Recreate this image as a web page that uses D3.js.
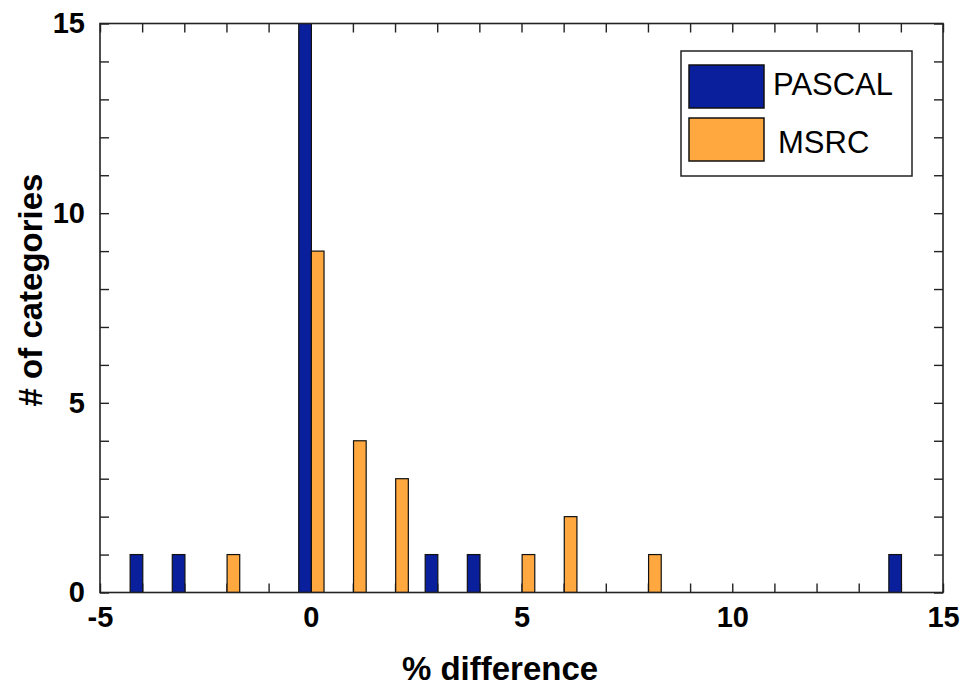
<!DOCTYPE html>
<html>
<head>
<meta charset="utf-8">
<script src="https://cdn.jsdelivr.net/npm/d3@7"></script>
<style>
  body { margin: 0; background: #fff; }
  svg { display: block; }
  text { font-family: "Liberation Sans", Arial, Helvetica, sans-serif; fill: #000; }
</style>
</head>
<body>
<script>
// Histogram of per-category % difference, one count per bin and dataset
const binCenters   = [-4, -3, -2, -1, 0, 1, 2, 3, 4, 5, 6, 7, 8, 9, 10, 11, 12, 13, 14];
const pascalCounts = [ 1,  1,  0,  0, 15, 0, 0, 1, 1, 0, 0, 0, 0, 0, 0, 0, 0, 0, 1];
const msrcCounts   = [ 0,  0,  1,  0,  9, 4, 3, 0, 0, 1, 2, 0, 1, 0, 0, 0, 0, 0, 0];
const seriesNames  = ["PASCAL", "MSRC"];
const seriesColors = ["#0a1f9c", "#ffa840"];
const xTickLabels  = [-5, 0, 5, 10, 15];
const yTickLabels  = [0, 5, 10, 15];
const xDomain = [-5, 15];
const yDomain = [0, 15];

const W = 967, H = 686;
const plot = { left: 100, right: 943, top: 23.5, bottom: 592.5 };

const svg = d3.select("body").append("svg")
  .attr("width", W).attr("height", H);

const x = d3.scaleLinear().domain(xDomain).range([plot.left, plot.right]);
const y = d3.scaleLinear().domain(yDomain).range([plot.bottom, plot.top]);
// position of each dataset's bar within its bin (in data units)
const sub = d3.scaleBand().domain(seriesNames).range([-0.285, 0.315]).padding(0);

const minorX = d3.range(xDomain[0], xDomain[1] + 1);
const minorY = d3.range(yDomain[0], yDomain[1] + 1);
const tickLen = 9;
const plainNumber = d => String(d);   // ASCII hyphen for negatives

function styleTicks(g) {
  g.select(".domain").remove();
  g.selectAll(".tick line").attr("stroke", "#222").attr("stroke-width", 1.4);
}

// inward minor ticks on all four sides
svg.append("g").attr("transform", `translate(0,${plot.bottom})`)
  .call(d3.axisBottom(x).tickValues(minorX).tickSize(-tickLen).tickFormat(""))
  .call(styleTicks);
svg.append("g").attr("transform", `translate(0,${plot.top})`)
  .call(d3.axisTop(x).tickValues(minorX).tickSize(-tickLen).tickFormat(""))
  .call(styleTicks);
svg.append("g").attr("transform", `translate(${plot.left},0)`)
  .call(d3.axisLeft(y).tickValues(minorY).tickSize(-tickLen).tickFormat(""))
  .call(styleTicks);
svg.append("g").attr("transform", `translate(${plot.right},0)`)
  .call(d3.axisRight(y).tickValues(minorY).tickSize(-tickLen).tickFormat(""))
  .call(styleTicks);

// bars
svg.append("clipPath").attr("id", "plotclip").append("rect")
  .attr("x", plot.left).attr("y", plot.top)
  .attr("width", plot.right - plot.left).attr("height", plot.bottom - plot.top);

const seriesData = [pascalCounts, msrcCounts];
const barsG = svg.append("g").attr("clip-path", "url(#plotclip)");
seriesNames.forEach((name, si) => {
  const rows = binCenters.map((c, i) => ({ c, v: seriesData[si][i] })).filter(d => d.v > 0);
  barsG.selectAll(null).data(rows).join("rect")
    .attr("x", d => x(d.c + sub(name)))
    .attr("width", d => x(d.c + sub(name) + sub.bandwidth()) - x(d.c + sub(name)))
    .attr("y", d => y(d.v))
    .attr("height", d => y(0) - y(d.v))
    .attr("fill", seriesColors[si])
    .attr("stroke", "#111")
    .attr("stroke-width", 1.2);
});

// frame
svg.append("rect")
  .attr("x", plot.left).attr("y", plot.top)
  .attr("width", plot.right - plot.left).attr("height", plot.bottom - plot.top)
  .attr("fill", "none").attr("stroke", "#222").attr("stroke-width", 1.6);

// tick labels
const xl = svg.append("g").attr("transform", `translate(0,${plot.bottom})`)
  .call(d3.axisBottom(x).tickValues(xTickLabels).tickSize(0).tickPadding(14).tickFormat(plainNumber));
xl.select(".domain").remove();
xl.selectAll("text").attr("font-size", 29).attr("font-weight", "bold")
  .attr("font-family", '"Liberation Sans", Arial, sans-serif').attr("fill", "#000");

const yl = svg.append("g").attr("transform", `translate(${plot.left},0)`)
  .call(d3.axisLeft(y).tickValues(yTickLabels).tickSize(0).tickPadding(15).tickFormat(plainNumber));
yl.select(".domain").remove();
yl.selectAll("text").attr("font-size", 29).attr("font-weight", "bold")
  .attr("font-family", '"Liberation Sans", Arial, sans-serif').attr("fill", "#000");

// axis titles
svg.append("text")
  .attr("x", 500).attr("y", 680)
  .attr("text-anchor", "middle")
  .attr("font-size", 33).attr("font-weight", "bold")
  .text("% difference");

svg.append("text")
  .attr("transform", "translate(42,290) rotate(-90)")
  .attr("text-anchor", "middle")
  .attr("font-size", 33).attr("font-weight", "bold")
  .text("# of categories");

// legend
const legend = svg.append("g");
legend.append("rect")
  .attr("x", 681).attr("y", 51).attr("width", 231).attr("height", 125)
  .attr("fill", "#fff").attr("stroke", "#222").attr("stroke-width", 1.5);
const legendRows = [
  { name: seriesNames[0], color: seriesColors[0], y: 65, tx: 773, ty: 95 },
  { name: seriesNames[1], color: seriesColors[1], y: 118, tx: 778, ty: 153 }
];
legend.selectAll("rect.sw").data(legendRows).join("rect")
  .attr("class", "sw")
  .attr("x", 689).attr("y", d => d.y).attr("width", 75).attr("height", 43)
  .attr("fill", d => d.color).attr("stroke", "#111").attr("stroke-width", 1.5);
legend.selectAll("text").data(legendRows).join("text")
  .attr("x", d => d.tx).attr("y", d => d.ty)
  .attr("font-size", 31)
  .text(d => d.name);
</script>
</body>
</html>
